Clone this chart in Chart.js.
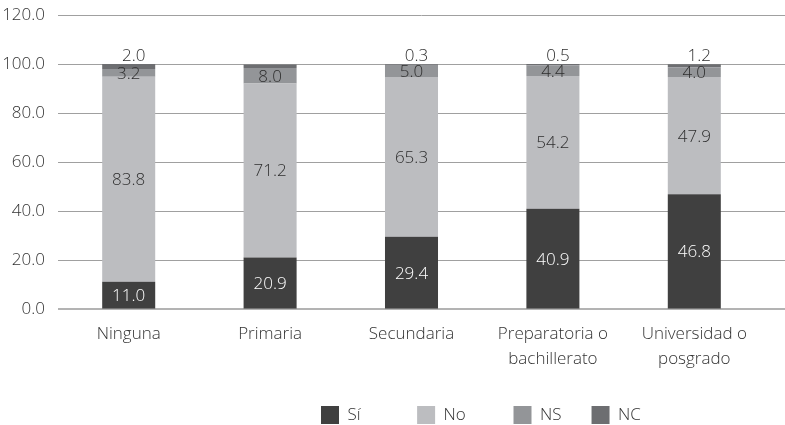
<!DOCTYPE html>
<html>
<head>
<meta charset="utf-8">
<script src="https://cdn.jsdelivr.net/npm/chart.js@4.4.1/dist/chart.umd.min.js"></script>
<style>
html,body{margin:0;padding:0;background:#fff;}
#wrap{width:785px;height:425px;position:relative;}
</style>
</head>
<body>
<div id="wrap"><canvas id="c" width="785" height="425"></canvas></div>
<script>
const categories = [["Ninguna"], ["Primaria"], ["Secundaria"], ["Preparatoria o", "bachillerato"], ["Universidad o", "posgrado"]];
const seriesNames = ["Sí", "No", "NS", "NC"];
const siValues = [11.0, 20.9, 29.4, 40.9, 46.8];
const noValues = [83.8, 71.2, 65.3, 54.2, 47.9];
const nsValues = [3.2, 6.3, 5.0, 4.4, 4.0];
const ncValues = [2.0, 1.4, 0.3, 0.5, 1.2];
const siLabels = ["11.0", "20.9", "29.4", "40.9", "46.8"];
const noLabels = ["83.8", "71.2", "65.3", "54.2", "47.9"];
const nsLabels = ["3.2", "8.0", "5.0", "4.4", "4.0"];
const ncLabels = ["2.0", "", "0.3", "0.5", "1.2"];
const yTickStep = 20;

const colors = ["#404040", "#bcbdc0", "#939598", "#6d6e71"];
const FONT = "'Open Sans', Lato, sans-serif";
const WEIGHT = 300;
const TEXT = "#333333";
const legendPad = [6, 4, 0, 0];

const labelPlugin = {
  id: 'valueLabels',
  afterDatasetsDraw(chart) {
    const ctx = chart.ctx;
    const allLabels = [siLabels, noLabels, nsLabels, ncLabels];
    ctx.save();
    ctx.font = WEIGHT + " 17px " + FONT;
    ctx.textAlign = 'center';
    ctx.textBaseline = 'middle';
    chart.data.datasets.forEach((ds, di) => {
      const meta = chart.getDatasetMeta(di);
      meta.data.forEach((bar, i) => {
        const txt = allLabels[di][i];
        if (!txt) return;
        const top = Math.min(bar.y, bar.base);
        const bottom = Math.max(bar.y, bar.base);
        let y = (top + bottom) / 2;
        let x = bar.x;
        ctx.fillStyle = di === 0 ? '#ffffff' : '#2e2e2e';
        if (di === 3) { y = top - 9; x = bar.x + 5; }
        ctx.fillText(txt, x, y + 1);
      });
    });
    ctx.restore();
  }
};

const gridPlugin = {
  id: 'gridFull',
  beforeDatasetsDraw(chart) {
    const ys = chart.scales.y;
    const ctx = chart.ctx;
    ctx.save();
    ys.ticks.forEach((t) => {
      const py = Math.round(ys.getPixelForValue(t.value));
      const zero = t.value === 0;
      ctx.strokeStyle = zero ? '#b3b3b3' : '#a0a0a0';
      ctx.lineWidth = zero ? 2 : 1;
      const off = zero ? 0 : 0.5;
      ctx.beginPath();
      ctx.moveTo(chart.chartArea.left, py + off);
      ctx.lineTo(chart.width, py + off);
      ctx.stroke();
    });
    ctx.restore();
  }
};

const legendPlace = {
  id: 'legendPlace',
  afterLayout(chart) {
    const lg = chart.legend;
    if (!lg) return;
    const p = lg.options.labels.padding;
    const w = lg.right - lg.left;
    lg.left = 321 - p; lg.right = lg.left + w;
    lg.top = 406 - p; lg.bottom = chart.height;
  }
};

new Chart(document.getElementById('c'), {
  type: 'bar',
  data: {
    labels: categories,
    datasets: seriesNames.map((n, k) => ({
      label: n,
      data: [siValues, noValues, nsValues, ncValues][k],
      backgroundColor: colors[k],
      borderWidth: 0,
      categoryPercentage: 1.0,
      barPercentage: 0.375
    }))
  },
  options: {
    responsive: false,
    animation: false,
    devicePixelRatio: 1,
    layout: { padding: { top: 6, right: 20, left: 0, bottom: 0 } },
    plugins: {
      legend: {
        position: 'bottom',
        align: 'start',
        maxHeight: 49,
        labels: {
          boxWidth: 18, boxHeight: 18, padding: 30,
          color: TEXT, font: { family: FONT, size: 17, weight: WEIGHT },
          generateLabels(chart) {
            return chart.data.datasets.map((ds, i) => ({
              text: ds.label + ' '.repeat(legendPad[i]),
              fillStyle: ds.backgroundColor,
              strokeStyle: ds.backgroundColor,
              lineWidth: 0,
              fontColor: TEXT,
              hidden: false,
              datasetIndex: i
            }));
          }
        }
      },
      tooltip: { enabled: false }
    },
    scales: {
      x: {
        stacked: true,
        grid: { display: false },
        border: { display: false },
        ticks: { color: TEXT, font: { family: FONT, size: 17, weight: WEIGHT, lineHeight: 1.45 }, padding: 5, maxRotation: 0 }
      },
      y: {
        stacked: true,
        min: 0, max: 120,
        grid: { display: false },
        border: { display: false },
        afterFit(scale) { scale.width = 58; },
        ticks: {
          stepSize: yTickStep,
          padding: 5, color: TEXT, font: { family: FONT, size: 17, weight: WEIGHT },
          callback: (v) => Number(v).toFixed(1)
        }
      }
    }
  },
  plugins: [labelPlugin, gridPlugin, legendPlace]
});
</script>
</body>
</html>
